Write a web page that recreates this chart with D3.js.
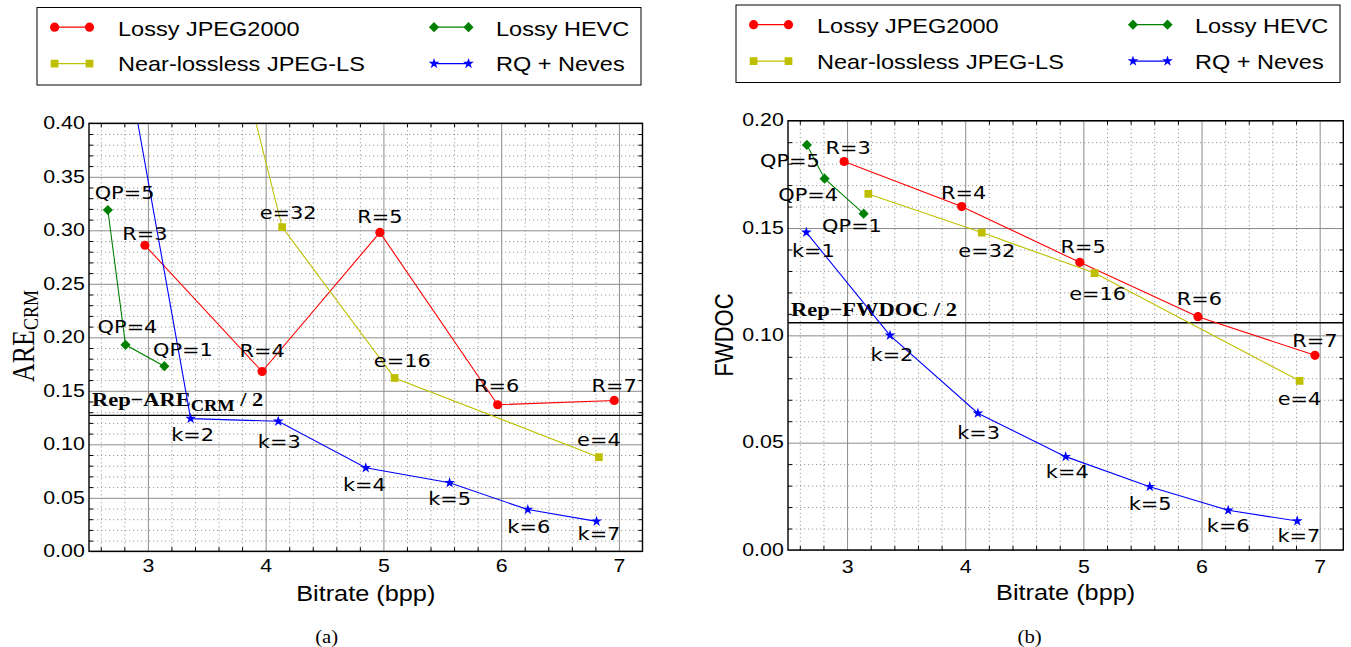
<!DOCTYPE html>
<html>
<head>
<meta charset="utf-8">
<script src="https://cdn.jsdelivr.net/npm/d3@7/dist/d3.min.js"></script>
<style>
  body { margin: 0; background: #fff; }
  .pt-lab { font-family: 'DejaVu Sans', sans-serif; font-size: 18px; fill: #000; }
  .leg-lab { font-family: 'Liberation Sans', Arial, sans-serif; font-size: 21px; fill: #000; }
  .ax-title { font-family: 'Liberation Sans', Arial, sans-serif; font-size: 22px; fill: #000; }
  .serif { font-family: 'Liberation Serif', 'Times New Roman', serif; fill: #000; }
</style>
</head>
<body>
<svg id="fig" width="1351" height="647"></svg>
<script>
// bitrates (bpp), shared by both panels
const bitJ2K = [2.975, 3.97, 4.97, 5.97, 6.96];
const bitHEVC = [2.66, 2.81, 3.14];
const bitJLS = [3.18, 4.14, 5.095, 6.83];
const bitRQ = [2.655, 3.363, 4.107, 4.85, 5.562, 6.226, 6.81];

// point labels
const labJ2K = ['R=3', 'R=4', 'R=5', 'R=6', 'R=7'];
const labHEVC = ['QP=5', 'QP=4', 'QP=1'];
const labJLS = ['', 'e=32', 'e=16', 'e=4'];
const labRQ = ['k=1', 'k=2', 'k=3', 'k=4', 'k=5', 'k=6', 'k=7'];

// (a) ARE_CRM
const areJ2K = [0.286, 0.168, 0.298, 0.137, 0.141];
const areHEVC = [0.319, 0.193, 0.173];
const areJLS = [0.724, 0.303, 0.162, 0.088];
const areRQ = [0.560, 0.124, 0.1215, 0.078, 0.064, 0.039, 0.028];
const repARE = 0.127;

// (b) FWDOC
const fwdocJ2K = [0.181, 0.160, 0.134, 0.1087, 0.0907];
const fwdocHEVC = [0.1887, 0.173, 0.1567];
const fwdocJLS = [0.1659, 0.1479, 0.129, 0.0788];
const fwdocRQ = [0.148, 0.100, 0.0637, 0.0435, 0.0295, 0.0185, 0.0135];
const repFWDOC = 0.1059;

// axis ticks
const xTicks = [3, 4, 5, 6, 7];
const yTicksA = [0, 0.05, 0.1, 0.15, 0.2, 0.25, 0.3, 0.35, 0.4];
const yTicksB = [0, 0.05, 0.1, 0.15, 0.2];
const X_DOMAIN = [2.5, 7.2];

const SERIES = [
  { key: 'J2K', name: 'Lossy JPEG2000', color: '#ff0000', sym: d3.symbolCircle, size: 66, bits: bitJ2K, labels: labJ2K },
  { key: 'JLS', name: 'Near-lossless JPEG-LS', color: '#bfbf00', sym: d3.symbolSquare, size: 60, bits: bitJLS, labels: labJLS },
  { key: 'HEVC', name: 'Lossy HEVC', color: '#008000', sym: d3.symbolDiamond2, size: 66, bits: bitHEVC, labels: labHEVC },
  { key: 'RQ', name: 'RQ + Neves', color: '#0000ff', sym: d3.symbolStar, size: 36, bits: bitRQ, labels: labRQ }
];

const svg = d3.select('#fig');
const SX = 1.15; // the figure is a bit wider than tall

function stretchedText(g, x, y, str, cls, sx, anchor) {
  return g.append('text')
    .attr('class', cls)
    .attr('transform', `translate(${x},${y}) scale(${sx},1)`)
    .attr('text-anchor', anchor || 'middle')
    .text(str);
}

function tickFont(s) {
  s.attr('font-size', null).attr('font-family', null);
  s.selectAll('text')
    .style('font-family', "'Liberation Sans', Arial, sans-serif")
    .style('font-size', '18.6px')
    .attr('fill', '#000');
}

function drawPanel(p) {
  const { x0, x1, y0, y1 } = p.box;
  const x = d3.scaleLinear().domain(X_DOMAIN).range([x0, x1]);
  const y = d3.scaleLinear().domain(p.yDomain).range([y1, y0]);
  const g = svg.append('g').attr('class', 'panel-' + p.id);

  const clipId = 'clip-' + p.id;
  svg.append('clipPath').attr('id', clipId).append('rect')
    .attr('x', x0).attr('y', y0).attr('width', x1 - x0).attr('height', y1 - y0);

  const xMinor = d3.range(13, 36).map(i => i / 5).filter(v => Math.abs(v - Math.round(v)) > 1e-6);
  const nY = Math.round(p.yDomain[1] * 100);
  const yMinor = d3.range(1, nY).map(i => i / 100).filter((v, i) => (i + 1) % 5 !== 0);

  // minor grid (dotted)
  const grid = g.append('g');
  grid.append('g').attr('transform', `translate(0,${y1})`)
    .call(d3.axisBottom(x).tickValues(xMinor).tickSize(-(y1 - y0)).tickFormat(''))
    .call(s => s.selectAll('line').attr('stroke', '#9a9a9a').attr('stroke-dasharray', '1.2,2.8'));
  grid.append('g').attr('transform', `translate(${x0},0)`)
    .call(d3.axisLeft(y).tickValues(yMinor).tickSize(-(x1 - x0)).tickFormat(''))
    .call(s => s.selectAll('line').attr('stroke', '#9a9a9a').attr('stroke-dasharray', '1.2,2.8'));
  // major grid
  grid.append('g').attr('transform', `translate(0,${y1})`)
    .call(d3.axisBottom(x).tickValues(xTicks).tickSize(-(y1 - y0)).tickFormat(''))
    .call(s => s.selectAll('line').attr('stroke', '#8c8c8c').attr('stroke-width', 1));
  grid.append('g').attr('transform', `translate(${x0},0)`)
    .call(d3.axisLeft(y).tickValues(p.yTicks).tickSize(-(x1 - x0)).tickFormat(''))
    .call(s => s.selectAll('line').attr('stroke', '#8c8c8c').attr('stroke-width', 1));
  grid.selectAll('.domain').remove();

  // inward minor ticks on all four sides
  const ticks = g.append('g');
  ticks.append('g').attr('transform', `translate(0,${y1})`).call(d3.axisBottom(x).tickValues(xMinor).tickSize(-4).tickFormat(''));
  ticks.append('g').attr('transform', `translate(0,${y0})`).call(d3.axisTop(x).tickValues(xMinor).tickSize(-4).tickFormat(''));
  ticks.append('g').attr('transform', `translate(${x0},0)`).call(d3.axisLeft(y).tickValues(yMinor).tickSize(-4).tickFormat(''));
  ticks.append('g').attr('transform', `translate(${x1},0)`).call(d3.axisRight(y).tickValues(yMinor).tickSize(-4).tickFormat(''));
  ticks.selectAll('.domain').remove();
  ticks.selectAll('line').attr('stroke', '#000');

  // tick labels
  g.append('g').attr('transform', `translate(0,${y1})`)
    .call(d3.axisBottom(x).tickValues(xTicks).tickSize(0).tickPadding(p.xPad).tickFormat(d3.format('d')))
    .call(s => s.select('.domain').remove())
    .call(tickFont)
    .call(s => s.selectAll('text').attr('transform', `scale(${SX},1)`));
  g.append('g').attr('transform', `translate(${x0},0)`)
    .call(d3.axisLeft(y).tickValues(p.yTicks).tickSize(0).tickPadding(0).tickFormat(d3.format('.2f')))
    .call(s => s.select('.domain').remove())
    .call(tickFont)
    .call(s => s.selectAll('text').attr('x', null).attr('dy', '0.28em')
      .attr('transform', `translate(-4.2,0) scale(${SX},1)`));

  // reference line
  g.append('line')
    .attr('x1', x0).attr('x2', x1).attr('y1', y(p.rep)).attr('y2', y(p.rep))
    .attr('stroke', '#000').attr('stroke-width', 1.4);
  const rl = g.append('text').attr('class', 'serif')
    .attr('transform', `translate(${x0 + 3},${y(p.rep) - p.repLift}) scale(${SX},1)`)
    .attr('font-weight', 'bold').attr('font-size', 19.5);
  p.repLabel(rl);

  // series
  const plot = g.append('g').attr('clip-path', `url(#${clipId})`);
  const line = d3.line().x(d => x(d.b)).y(d => y(d.v));
  SERIES.forEach(s => {
    const pts = s.bits.map((b, i) => ({ b, v: p.values[s.key][i] }));
    plot.append('path').datum(pts).attr('d', line)
      .attr('fill', 'none').attr('stroke', s.color).attr('stroke-width', 1.1);
    plot.selectAll(null).data(pts).join('path')
      .attr('d', d3.symbol().type(s.sym).size(s.size))
      .attr('transform', d => `translate(${x(d.b)},${y(d.v)})`)
      .attr('fill', s.color);
  });
  // point labels, only for points that are inside the plot
  const labs = g.append('g');
  SERIES.forEach(s => {
    s.bits.forEach((b, i) => {
      const v = p.values[s.key][i];
      const off = p.offsets[s.key][i];
      if (!s.labels[i] || v > p.yDomain[1]) return;
      stretchedText(labs, x(b) + off[0], y(v) + off[1], s.labels[i], 'pt-lab', 1.16);
    });
  });

  // frame
  g.append('rect').attr('x', x0).attr('y', y0).attr('width', x1 - x0).attr('height', y1 - y0)
    .attr('fill', 'none').attr('stroke', '#000').attr('stroke-width', 1.4);

  // titles
  stretchedText(g, (x0 + x1) / 2, p.xTitleY, 'Bitrate (bpp)', 'ax-title', SX);
  p.yTitle(g);
  stretchedText(g, p.capX, 643, p.caption, 'serif', SX).attr('font-size', 18);

  drawLegend(p.legend[0], p.legend[1]);
}

function drawLegend(ox, oy) {
  const g = svg.append('g').attr('transform', `translate(${ox},${oy})`);
  g.append('rect').attr('x', 0).attr('y', 0).attr('width', 604).attr('height', 77.5)
    .attr('fill', '#fff').attr('stroke', '#000').attr('stroke-width', 1);
  const cols = [{ l0: 17.6, l1: 52.5, t: 81 }, { l0: 397, l1: 431.5, t: 459 }];
  const rows = [{ m: 19.7, t: 28 }, { m: 56.1, t: 63.9 }];
  SERIES.forEach((s, i) => {
    const c = cols[Math.floor(i / 2)];
    const r = rows[i % 2];
    g.append('line').attr('x1', c.l0).attr('x2', c.l1).attr('y1', r.m).attr('y2', r.m)
      .attr('stroke', s.color).attr('stroke-width', 1.3);
    [c.l0, c.l1].forEach(px => {
      g.append('path').attr('d', d3.symbol().type(s.sym).size(s.size)())
        .attr('transform', `translate(${px},${r.m})`).attr('fill', s.color);
    });
    stretchedText(g, c.t, r.t, s.name, 'leg-lab', 1.12, 'start');
  });
}

drawPanel({
  id: 'a',
  box: { x0: 89, x1: 642.5, y0: 123.3, y1: 551.3 },
  yDomain: [0, 0.4],
  yTicks: yTicksA,
  xPad: 7.6,
  xTitleY: 601,
  capX: 326.7,
  caption: '(a)',
  legend: [37, 7.5],
  rep: repARE,
  repLift: 9.5,
  repLabel: t => {
    t.append('tspan').text('Rep\u2212ARE');
    t.append('tspan').attr('font-size', 16).attr('dy', 5.5).text('CRM');
    t.append('tspan').attr('dy', -5.5).text(' / 2');
  },
  values: { J2K: areJ2K, HEVC: areHEVC, JLS: areJLS, RQ: areRQ },
  offsets: {
    J2K: [[0, -5], [0, -15], [0, -9], [-1, -12.6], [0, -8.6]],
    HEVC: [[16.7, -11], [2, -12], [18.6, -10]],
    JLS: [[0, 0], [6, -8], [7.7, -11], [0, -11]],
    RQ: [[0, 0], [2, 22.4], [1, 27], [-1.4, 23.3], [0, 22.3], [1, 23.6], [2.4, 18.7]]
  },
  yTitle: g => {
    const t = g.append('text').attr('class', 'serif')
      .attr('transform', 'translate(34,336) scale(1.2,1) rotate(-90)')
      .attr('text-anchor', 'middle').attr('font-size', 26);
    t.append('tspan').text('ARE');
    t.append('tspan').attr('font-size', 18).attr('dy', 3).text('CRM');
  }
});

drawPanel({
  id: 'b',
  box: { x0: 788, x1: 1343.3, y0: 120.7, y1: 550 },
  yDomain: [0, 0.2],
  yTicks: yTicksB,
  xPad: 9.4,
  xTitleY: 600,
  capX: 1029.6,
  caption: '(b)',
  legend: [736, 5],
  rep: repFWDOC,
  repLift: 7,
  repLabel: t => {
    t.append('tspan').text('Rep\u2212FWDOC / 2');
  },
  values: { J2K: fwdocJ2K, HEVC: fwdocHEVC, JLS: fwdocJLS, RQ: fwdocRQ },
  offsets: {
    J2K: [[4, -7], [2, -8], [3.4, -9.6], [1.4, -12], [0, -8.6]],
    HEVC: [[-17, 21.7], [-16.5, 22], [-11.6, 18]],
    JLS: [[0, 0], [5, 24], [3, 27], [0, 24]],
    RQ: [[7, 25], [2, 26], [0.7, 26], [1.6, 21.6], [0.4, 23.3], [0, 21.4], [1.6, 20.7]]
  },
  yTitle: g => {
    g.append('text').attr('class', 'ax-title')
      .attr('transform', 'translate(733,335) scale(1.15,1) rotate(-90)')
      .attr('text-anchor', 'middle').attr('font-size', 24).text('FWDOC');
  }
});
</script>
</body>
</html>
